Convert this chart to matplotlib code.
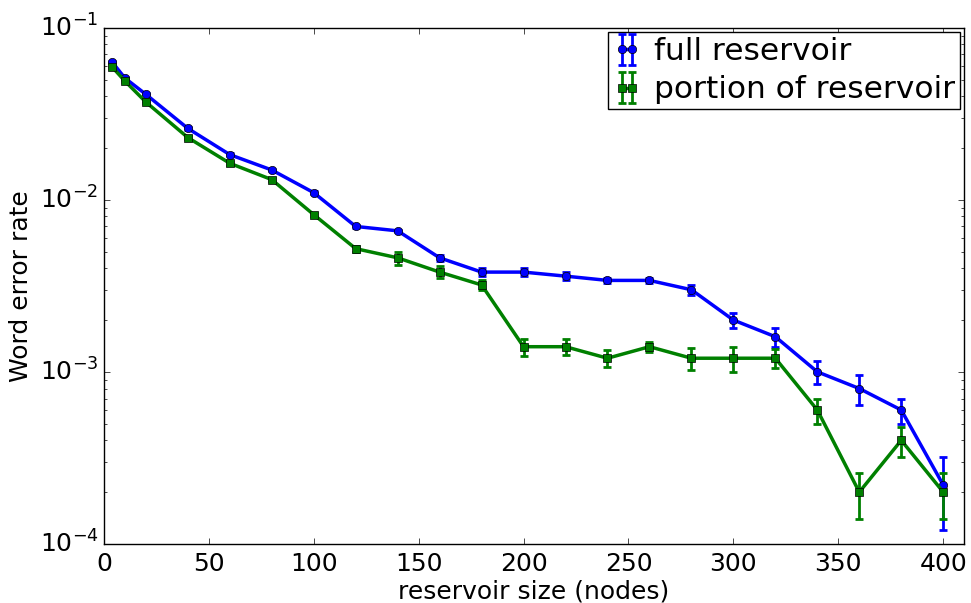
import matplotlib
matplotlib.use('Agg')
import matplotlib.pyplot as plt

plt.style.use('classic')

# Valeurs
tailles = [4, 10, 20, 40, 60, 80, 100, 120, 140, 160, 180, 200, 220, 240,
           260, 280, 300, 320, 340, 360, 380, 400]

wer_full = [0.063, 0.051, 0.041, 0.026, 0.0183, 0.0149, 0.011, 0.0070, 0.0066,
            0.0046, 0.0038, 0.0038, 0.0036, 0.0034, 0.0034, 0.0030, 0.0020,
            0.0016, 0.0010, 0.0008, 0.0006, 0.00022]
err_full = [0.001, 0.0008, 0.0006, 0.0004, 0.0003, 0.0002, 0.0002, 0.0001,
            0.0001, 0.0002, 0.0002, 0.0002, 0.0002, 0.0001, 0.0001, 0.0002,
            0.0002, 0.0002, 0.00015, 0.00016, 0.0001, 0.0001]

wer_portion = [0.059, 0.049, 0.037, 0.023, 0.0163, 0.0131, 0.0082, 0.0052,
               0.0046, 0.0038, 0.0032, 0.0014, 0.0014, 0.0012, 0.0014, 0.0012,
               0.0012, 0.0012, 0.0006, 0.0002, 0.0004, 0.0002]
err_portion = [0.001, 0.0008, 0.0006, 0.0004, 0.0003, 0.0002, 0.0002, 0.0002,
               0.0004, 0.0003, 0.0002, 0.00016, 0.00015, 0.00014, 0.0001,
               0.00017, 0.0002, 0.00015, 0.0001, 0.00006, 0.00008, 0.00006]

fig = plt.figure(figsize=(9.71, 6.03), dpi=100, facecolor='white')
ax = fig.add_axes([0.107, 0.098, 0.886, 0.856])

ax.errorbar(tailles, wer_full, yerr=err_full, color='blue', marker='o',
            markersize=6, linewidth=2.5, elinewidth=2, capsize=3, capthick=2,
            markeredgecolor='black', label='full reservoir')
ax.errorbar(tailles, wer_portion, yerr=err_portion, color='green', marker='s',
            markersize=6, linewidth=2.5, elinewidth=2, capsize=3, capthick=2,
            markeredgecolor='black', label='portion of reservoir')

ax.set_yscale('log')
ax.set_xlim(0, 410)
ax.set_ylim(1e-4, 1e-1)
ax.set_xlabel('reservoir size (nodes)', fontsize=18, labelpad=2)
ax.set_ylabel('Word error rate', fontsize=18)
ax.tick_params(labelsize=18)
ax.tick_params(axis='x', pad=6)

ax.legend(loc='upper right', numpoints=2, fontsize=22.5, borderpad=0.15,
          handlelength=0.9, handletextpad=0.4, labelspacing=0.3,
          borderaxespad=0.15)

fig.savefig('out.png', dpi=100, facecolor='white')
